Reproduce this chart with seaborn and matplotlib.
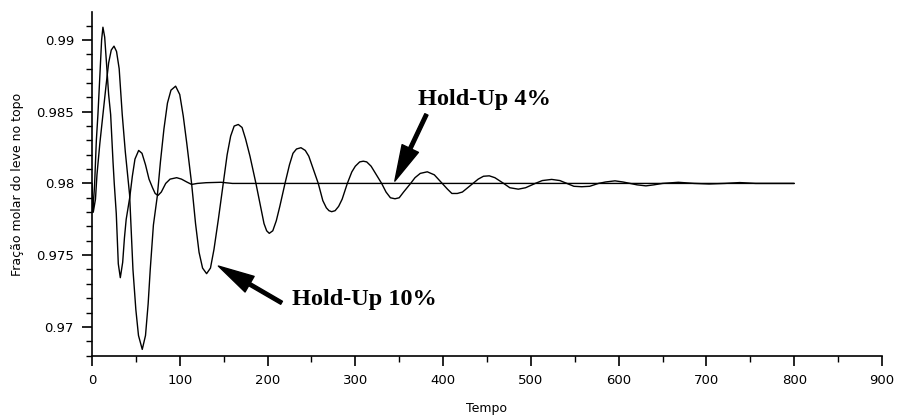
import matplotlib
matplotlib.use("Agg")
import matplotlib.pyplot as plt
import seaborn as sns
import pandas as pd
from matplotlib.ticker import MultipleLocator, FormatStrFormatter

# Hold-Up 10% response
t_10 = [0, 1.5, 4, 5.7, 9, 12.5, 16, 19, 22, 25.1, 28, 31, 34.5, 38, 42.9,
        46.7, 50, 53, 57.3, 61, 64, 66.4, 70, 74.4, 78, 82, 86, 90, 95.3,
        100, 104, 108, 113.5, 118, 122, 126, 130.6, 135, 139, 144, 149.6,
        154, 158, 162, 166.7, 171, 175, 180, 186.8, 192, 196, 199, 202,
        206, 210, 214, 219.9, 225, 229, 233, 238.1, 243, 247, 251, 257.8,
        263, 267, 270, 273.1, 277, 281, 285, 290.9, 296, 300, 305, 309.1,
        313, 318, 323, 330, 335, 340, 345.2, 350, 355, 363, 368, 374, 382,
        390, 399, 405, 410, 416.2, 422, 428, 434, 440, 446, 452.6, 459, 469,
        476, 485.7, 494, 505, 513, 523.7, 533, 541, 549, 557.9, 567, 577,
        585, 595.8, 605, 613, 621, 631.1, 640, 650, 668, 686, 703, 721, 738,
        756, 800]
x_10 = [0.9800, 0.9780, 0.9789, 0.9806, 0.9828, 0.9848, 0.9868, 0.9884,
        0.9893, 0.98957, 0.9892, 0.9880, 0.9848, 0.9822, 0.9792,
        0.9740, 0.9712, 0.9694, 0.96843, 0.9694, 0.9716, 0.9740, 0.9771,
        0.9791, 0.9815, 0.9838, 0.9856, 0.9865, 0.98678,
        0.9862, 0.9847, 0.9828, 0.9800, 0.9772, 0.9752, 0.9741, 0.97371,
        0.9741, 0.9754, 0.9775, 0.9800,
        0.9820, 0.9833, 0.9840, 0.98411, 0.9839, 0.9831, 0.9819, 0.9800,
        0.9784, 0.9772, 0.9767, 0.97652,
        0.9767, 0.9774, 0.9784, 0.9800, 0.9813, 0.9821, 0.9824, 0.98249,
        0.9823, 0.9819, 0.9812, 0.9800,
        0.9788, 0.9783, 0.9781, 0.97803, 0.9781, 0.9784, 0.9789, 0.9800,
        0.9808, 0.9812, 0.9815, 0.98155,
        0.9815, 0.9812, 0.9807, 0.9800, 0.9794, 0.9790, 0.97893, 0.9790,
        0.9794, 0.9800, 0.9804, 0.9807, 0.98081,
        0.9806, 0.9800, 0.9796, 0.9793, 0.97930, 0.9794, 0.9797, 0.9800,
        0.9803, 0.9805, 0.98053, 0.9804, 0.9800,
        0.9797, 0.97960, 0.9797, 0.9800, 0.9802, 0.98028, 0.9802, 0.9800,
        0.9798, 0.97977, 0.9798, 0.9800,
        0.9801, 0.98018, 0.9801, 0.9800, 0.9799, 0.97983, 0.9799, 0.9800,
        0.98008, 0.9800, 0.97996, 0.9800, 0.98006,
        0.9800, 0.9800]

# Hold-Up 4% response
t_4 = [0, 1, 3, 5, 6.8, 9, 11, 12.5, 14.5, 17, 19, 21.3, 24, 25.4, 27.7,
       30, 32.3, 35, 37, 39, 43, 46, 49, 53.2, 57, 61, 65, 69, 72, 75.2,
       79, 84, 89, 96.5, 102, 108, 113.5, 120, 130, 147, 160, 800]
x_4 = [0.9800, 0.9780, 0.9799, 0.9830, 0.9848, 0.9875, 0.9900, 0.99089,
       0.9902, 0.9880, 0.9862, 0.9848, 0.9815, 0.9800, 0.9779,
       0.9744, 0.97343, 0.9745, 0.9762, 0.9775, 0.9790, 0.9805, 0.9817,
       0.9823, 0.9821, 0.9813, 0.9803, 0.9797, 0.9793, 0.97916,
       0.9794, 0.9800, 0.9803, 0.98040, 0.9803, 0.9801, 0.97993, 0.9800,
       0.98005, 0.98008, 0.9800, 0.9800]

df10 = pd.DataFrame({"Tempo": t_10, "x": x_10})
df4 = pd.DataFrame({"Tempo": t_4, "x": x_4})

sns.set_style("white")
plt.rcParams["font.family"] = ["DejaVu Sans"]
plt.rcParams["text.color"] = "black"
plt.rcParams["axes.labelcolor"] = "black"

fig = plt.figure(figsize=(8.98, 4.17), dpi=100)
ax = fig.add_axes([0.1024, 0.1463, 0.8798, 0.8249])

sns.lineplot(data=df10, x="Tempo", y="x", color="black", lw=1.0, ax=ax,
             sort=False, estimator=None)
sns.lineplot(data=df4, x="Tempo", y="x", color="black", lw=1.0, ax=ax,
             sort=False, estimator=None)

ax.set_xlim(0, 900)
ax.set_ylim(0.96797, 0.99195)
ax.xaxis.set_major_locator(MultipleLocator(100))
ax.xaxis.set_minor_locator(MultipleLocator(50))
ax.yaxis.set_major_locator(MultipleLocator(0.005))
ax.yaxis.set_minor_locator(MultipleLocator(0.001))
ax.yaxis.set_major_formatter(FormatStrFormatter("%g"))

for s in ["top", "right"]:
    ax.spines[s].set_visible(False)
for s in ["left", "bottom"]:
    ax.spines[s].set_color("black")
    ax.spines[s].set_linewidth(1.2)

ax.tick_params(which="major", direction="out", length=7, width=1.2,
               labelsize=9.5, colors="black", pad=6)
ax.tick_params(which="minor", direction="out", length=4, width=1.0,
               colors="black")
ax.tick_params(axis="x", which="both", bottom=True)
ax.tick_params(axis="y", which="both", left=True)

ax.set_xlabel("Tempo", fontsize=9, labelpad=11, color="black")
ax.set_ylabel("Fração molar do leve no topo", fontsize=9, labelpad=9,
              color="black")

# annotations: text and arrows drawn separately
ann_font = dict(family="Liberation Serif", weight="bold", size=17.5,
                color="black")
arrow = dict(facecolor="black", edgecolor="black", width=2.5,
             headwidth=13, headlength=26, shrink=0.0)

ax.text(371, 0.98585, "Hold-Up 4%", va="center", ha="left", fontdict=ann_font)
ax.annotate("", xy=(345, 0.98016), xytext=(381, 0.98481), arrowprops=arrow)

ax.text(227.5, 0.97191, "Hold-Up 10%", va="center", ha="left", fontdict=ann_font)
ax.annotate("", xy=(144, 0.97424), xytext=(216, 0.97168), arrowprops=arrow)

fig.savefig("out.png", dpi=100)
